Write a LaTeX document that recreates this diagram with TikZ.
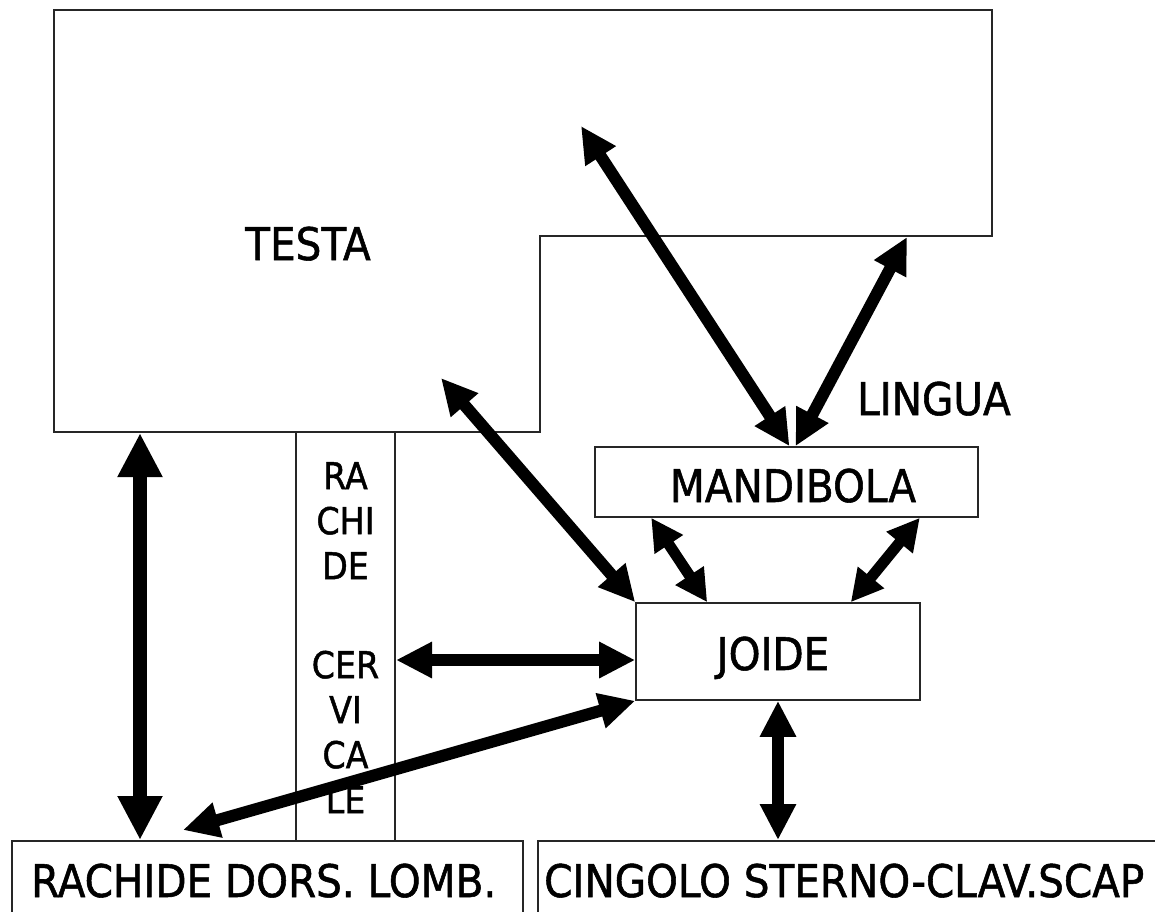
\documentclass[tikz,border=0pt]{standalone}
\usepackage{fontspec}
\setmainfont{DejaVu Sans}[FakeStretch=0.9,FakeBold=1.2]
\usetikzlibrary{arrows.meta}
\begin{document}
\begin{tikzpicture}[x=1pt,y=-1pt,
  outline/.style={draw=black!85, line width=1.6pt},
  box/.style={outline, rectangle, inner sep=0pt},
  lbl/.style={font=\fontsize{45}{54}\selectfont, inner sep=0pt},
  biarrow/.style={line width=12pt, {Triangle[length=36pt,width=34pt]}-{Triangle[length=36pt,width=34pt]}},
  smallarrow/.style={line width=11pt, {Triangle[length=32pt,width=32pt]}-{Triangle[length=32pt,width=32pt]}},
  bigarrow/.style={line width=13.5pt, {Triangle[length=44pt,width=42pt]}-{Triangle[length=44pt,width=42pt]}}
]
\useasboundingbox (0,0) rectangle (1155,911);
\clip (0,0) rectangle (1155,911);

% TESTA outline
\draw[outline] (54,10) -- (992,10) -- (992,236) -- (540,236) -- (540,432) -- (54,432) -- cycle;
% cervical spine column
\draw[outline] (296,432) -- (296,840);
\draw[outline] (395,432) -- (395,840);

% labels and boxes
\node[lbl, anchor=base] (testa) at (308,260) {TESTA};
\node[lbl, anchor=base west] (lingua) at (857,415) {LINGUA};
\node[box, minimum width=383pt, minimum height=70pt] (mand) at (786.5,482) {};
\node[lbl, anchor=base] (mandt) at (793,502) {MANDIBOLA};
\node[box, minimum width=284pt, minimum height=97pt] (joide) at (778,651.5) {};
\node[lbl, anchor=base] (joidet) at (773,670) {JOIDE};
\node[box, anchor=north west, minimum width=511pt, minimum height=100pt] (rdl) at (11,840) {};
\node[lbl, anchor=base west] (rdlt) at (31,897) {RACHIDE DORS. LOMB.};
\node[box, anchor=north west, minimum width=640pt, minimum height=100pt] (csc) at (537,840) {};
\node[lbl, anchor=base west] (csct) at (544,897) {CINGOLO STERNO-CLAV.SCAP};
\node[font=\fontsize{37}{45}\selectfont, align=center, anchor=north, inner sep=0pt] (rct) at (345.5,462)
  {RA\\CHI\\DE\\[54pt]CER\\VI\\CA\\LE};

% connector end points inside / on TESTA
\coordinate (tA) at (140,433);
\coordinate (tB) at (441,378);
\coordinate (tC) at (581,126);
\coordinate (tD) at (907,237);
\coordinate (rcR) at (396,660);
\coordinate (rdlB) at (183,830);

% connectors
\draw[bigarrow] (tA) -- (tA |- rdl.north);
\draw[biarrow] (rcR) -- (joide.west |- rcR);
\draw[biarrow] (joide.south west) -- (rdlB);
\draw[biarrow] (tB) -- (joide.north west);
\draw[biarrow] (tC) -- ([xshift=3pt]mand.north);
\draw[biarrow] (tD) -- ([xshift=9pt]mand.north);
\draw[smallarrow] ([xshift=57pt]mand.south west) -- ([xshift=72pt]joide.north west);
\draw[smallarrow] ([xshift=-59pt]mand.south east) -- ([xshift=-70pt]joide.north east);
\draw[biarrow] (joide.south) -- (joide.south |- csc.north);
\end{tikzpicture}
\end{document}
